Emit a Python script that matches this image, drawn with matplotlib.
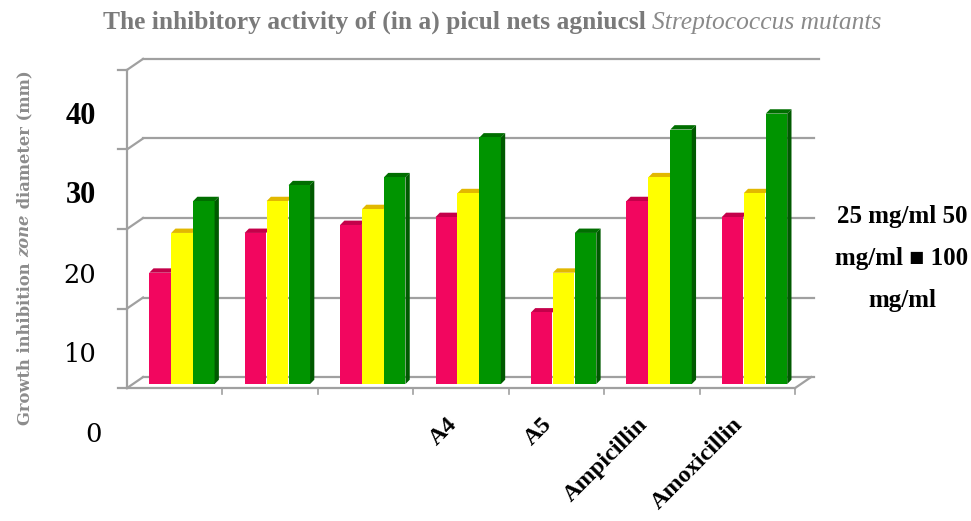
import matplotlib
matplotlib.use("Agg")
import matplotlib.pyplot as plt
from matplotlib.patches import Polygon

# ---- data -------------------------------------------------------------
categories = ["", "", "", "A4", "A5", "Ampicillin", "Amoxicillin"]
series_names = ["25 mg/ml", "50 mg/ml", "100 mg/ml"]
dose_25 = [14, 19, 20, 21, 9, 23, 21]
dose_50 = [19, 23, 22, 24, 14, 26, 24]
dose_100 = [23, 25, 26, 31, 19, 32, 34]
value_ticks = [0, 10, 20, 30, 40]

# ---- styling ------------------------------------------------------------
face_colors = ["#F2065F", "#FFFF00", "#009400"]
top_colors = ["#C4004A", "#E2B800", "#006E00"]
side_colors = ["#B00040", "#D0C000", "#005A00"]
frame_color = "#a0a0a0"

W, H, DPI = 971, 521, 100
fig = plt.figure(figsize=(W / DPI, H / DPI), dpi=DPI)
fig.patch.set_facecolor("white")

# axes box (pixels) and data limits
ax_left_px, ax_right_px, ax_top_px, ax_bot_px = 115, 830, 50, 396
ax = fig.add_axes([ax_left_px / W, 1 - ax_bot_px / H,
                   (ax_right_px - ax_left_px) / W, (ax_bot_px - ax_top_px) / H])
ax.set_xlim(-0.626, 6.866)
ax.set_ylim(-1.0, 42.5)
for s in ax.spines.values():
    s.set_visible(False)
ax.set_yticks([])
ax.patch.set_alpha(0)

n = len(categories)
DX, DY = 0.168, 1.38          # depth of the back wall
MX, MY = 0.075, 0.5           # bars sit half way into the depth
CDX, CDY = 0.045, 0.55        # depth of each column
bar_w = 0.225
offsets = [-0.23, 0.0, 0.23]

# ---- frame: front axis, back wall gridlines, floor ---------------------
lw = 1.6
x0 = -0.5
x_back_end = 6.70
ax.plot([x0, x0], [0, value_ticks[-1]], color=frame_color, lw=lw, zorder=1)
for v in value_ticks:
    ax.plot([x0, x0 + DX], [v, v + DY], color=frame_color, lw=lw, zorder=1)
    ax.plot([x0 + DX, x_back_end + (0.05 if v == value_ticks[-1] else 0)],
            [v + DY, v + DY], color=frame_color, lw=lw, zorder=1)
    ax.plot([x0 - 0.09, x0], [v, v], color=frame_color, lw=lw, zorder=1)
ax.plot([x0, n - 0.5], [0, 0], color=frame_color, lw=lw, zorder=1)
ax.plot([n - 0.5, n - 0.5 + DX], [0, DY], color=frame_color, lw=lw, zorder=1)
for i in range(1, n + 1):
    ax.plot([i - 0.5, i - 0.5], [0, -0.7], color=frame_color, lw=1.2, zorder=1)

# ---- 3-D looking columns ------------------------------------------------
all_series = [dose_25, dose_50, dose_100]
for k, vals in enumerate(all_series):
    xs = [i + offsets[k] + MX for i in range(n)]
    ax.bar(xs, vals, width=bar_w, bottom=MY, color=face_colors[k],
           edgecolor="none", zorder=3 + 2 * k, label=series_names[k])
    for x, v in zip(xs, vals):
        l, r, t = x - bar_w / 2, x + bar_w / 2, v + MY
        ax.add_patch(Polygon([(l, t), (r, t), (r + CDX, t + CDY), (l + CDX, t + CDY)],
                             closed=True, facecolor=top_colors[k], edgecolor="none",
                             zorder=2 + 2 * k))
        if k == len(all_series) - 1:
            ax.add_patch(Polygon([(r, MY), (r, t), (r + CDX, t + CDY), (r + CDX, MY + CDY)],
                                 closed=True, facecolor=side_colors[k],
                                 edgecolor="none", zorder=3 + 2 * k))

# ---- category labels ----------------------------------------------------
ax.set_xticks(range(n))
ax.set_xticklabels(categories, rotation=45, ha="right", va="top",
                   fontfamily="Liberation Serif", fontweight="bold", fontsize=17.5)
ax.tick_params(axis="x", length=0, pad=13)

# ---- value labels -------------------------------------------------------
label_shift = -5.8
ytrans = ax.get_yaxis_transform()
for v in value_ticks:
    bold = v >= 30
    ax.text(-0.026 if v else -0.018, v + label_shift, str(v), transform=ytrans,
            ha="right", va="center", fontsize=22 if bold else 18.5,
            fontfamily="Liberation Serif" if bold else "DejaVu Serif",
            fontweight="bold" if bold else "normal", color="black", clip_on=False)

# ---- title (bold part + italic organism name) ---------------------------
title_gray = "#7a7a7a"
renderer = fig.canvas.get_renderer()
t1 = fig.text(0, 1 - 29 / H, "The inhibitory activity of (in a) picul nets agniucsl ",
              fontfamily="Liberation Serif", fontweight="bold", fontsize=18.4,
              color=title_gray, ha="left", va="baseline")
t2 = fig.text(0, 1 - 29 / H, "Streptococcus mutants", fontfamily="Liberation Serif",
              fontstyle="italic", fontsize=18.4, color="#8a8a8a",
              ha="left", va="baseline")
w1 = t1.get_window_extent(renderer).width
w2 = t2.get_window_extent(renderer).width
start = 492 - (w1 + w2) / 2
t1.set_x(start / W)
t2.set_x((start + w1) / W)

# ---- y axis title (rotated, with italic middle word) --------------------
ylab_parts = [("Growth inhibition ", "normal"), ("zone", "italic"),
              (" diameter (mm)", "normal")]
ylab_texts = []
for s, style in ylab_parts:
    t = fig.text(25 / W, 0, s, rotation=90, fontfamily="DejaVu Serif",
                 fontweight="bold", fontstyle=style, fontsize=11.8, color="#8c8c8c",
                 ha="center", va="bottom")
    ylab_texts.append(t)
heights = [t.get_window_extent(renderer).height for t in ylab_texts]
# rotated text grows upward: stack the pieces from the bottom
ypos = (H - 248) - sum(heights) / 2
for t, h in zip(ylab_texts, heights):
    t.set_y(ypos / H)
    ypos += h

# ---- legend text --------------------------------------------------------
legend_lines = [f"{series_names[0]} {series_names[1].split()[0]}",
                f"{series_names[1].split()[1]} \u25a0 {series_names[2].split()[0]}",
                series_names[2].split()[1]]
for yy, s in zip([217, 258, 300], legend_lines):
    fig.text(902 / W, 1 - yy / H, s, fontfamily=["Liberation Serif", "DejaVu Sans"],
             fontweight="bold", fontsize=18, color="black", ha="center", va="center")

fig.savefig("out.png", dpi=DPI, facecolor="white")
